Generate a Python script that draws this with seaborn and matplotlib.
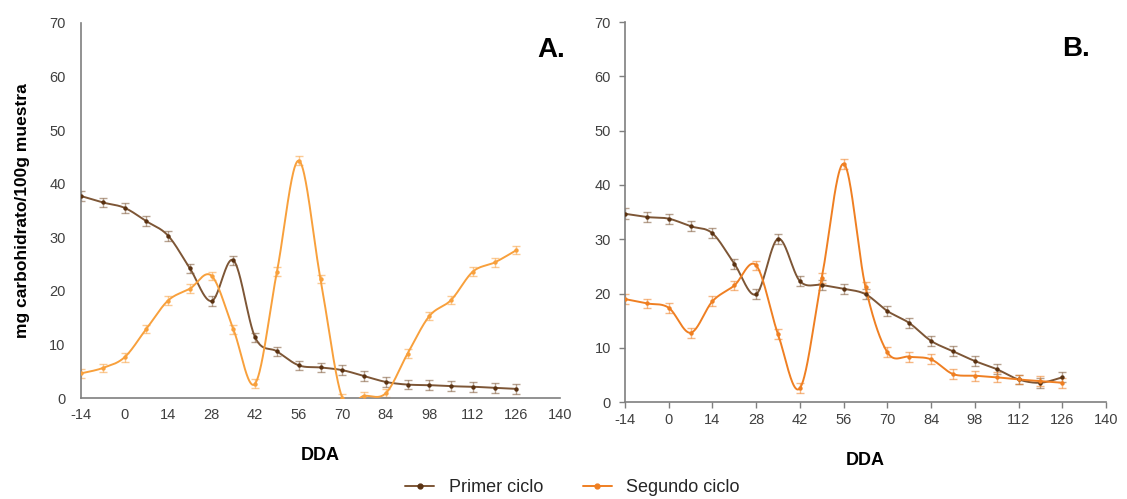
import numpy as np
import matplotlib
matplotlib.use("Agg")
import matplotlib.pyplot as plt
import seaborn as sns
from matplotlib.lines import Line2D

sns.set_theme(style="white")
plt.rcParams['font.family'] = ['Liberation Sans', 'DejaVu Sans']

# ---------------- data ----------------
dda = [-14, -7, 0, 7, 14, 21, 28, 35, 42, 49, 56, 63, 70, 77, 84, 91, 98, 105, 112, 119, 126]

primer_a = [37.7, 36.5, 35.5, 33.0, 30.3, 24.2, 18.1, 25.7, 11.3, 8.7, 6.1, 5.7, 5.2, 4.1, 3.0, 2.5, 2.4, 2.2, 2.1, 1.9, 1.7]
primer_a_err = [1.0, 0.9, 0.9, 0.9, 0.9, 0.9, 0.9, 0.9, 0.9, 0.9, 0.9, 0.9, 0.9, 0.9, 0.9, 0.9, 0.9, 0.9, 0.9, 0.9, 0.9]
segundo_a = [4.6, 5.6, 7.6, 12.9, 18.2, 20.4, 22.8, 12.8, 2.7, 23.6, 44.3, 22.2, 0.0, 0.4, 0.9, 8.3, 15.3, 18.3, 23.6, 25.3, 27.6]
segundo_a_err = [0.9, 0.8, 0.8, 0.8, 0.8, 0.8, 0.8, 0.8, 0.8, 0.8, 0.8, 0.8, 0.8, 0.8, 0.8, 0.8, 0.8, 0.8, 0.8, 0.8, 0.8]

primer_b = [34.7, 34.1, 33.8, 32.4, 31.1, 25.5, 19.9, 30.1, 22.3, 21.6, 20.9, 19.9, 16.8, 14.6, 11.3, 9.4, 7.6, 6.1, 4.2, 3.6, 4.6]
primer_b_err = [1.0, 0.9, 0.9, 0.9, 0.9, 0.9, 0.9, 0.9, 0.9, 0.9, 0.9, 0.9, 0.9, 0.9, 0.9, 0.9, 0.9, 0.9, 0.9, 0.9, 0.9]
segundo_b = [19.0, 18.2, 17.4, 12.8, 18.6, 21.5, 25.2, 12.5, 2.6, 22.9, 43.9, 21.2, 9.2, 8.4, 7.9, 5.2, 4.9, 4.6, 4.2, 3.9, 3.6]
segundo_b_err = [0.9, 0.9, 0.9, 0.9, 0.9, 0.9, 0.9, 0.9, 0.9, 0.9, 0.9, 0.9, 0.9, 0.9, 0.9, 0.9, 0.9, 0.9, 0.9, 0.9, 0.9]

x_ticks = [-14, 0, 14, 28, 42, 56, 70, 84, 98, 112, 126, 140]
y_ticks = [0, 10, 20, 30, 40, 50, 60, 70]
series_names = ["Primer ciclo", "Segundo ciclo"]
panel_labels = ["A.", "B."]

brown_line = "#7d5636"
brown_mark = "#5a3212"
orange_a = "#f8a03c"
orange_b = "#ef7f22"
spine_col = "#7f7f7f"
text_col = "#404040"


def smooth(xs, ys, n=40):
    """Excel-like smoothed line (Catmull-Rom via cubic Bezier)."""
    P = np.column_stack([xs, ys]).astype(float)
    out = []
    m = len(P)
    for i in range(m - 1):
        p0 = P[i - 1] if i > 0 else P[i]
        p1 = P[i]
        p2 = P[i + 1]
        p3 = P[i + 2] if i + 2 < m else P[i + 1]
        c1 = p1 + (p2 - p0) / 6.0
        c2 = p2 - (p3 - p1) / 6.0
        t = np.linspace(0, 1, n, endpoint=(i == m - 2))[:, None]
        seg = ((1 - t) ** 3) * p1 + 3 * ((1 - t) ** 2) * t * c1 + 3 * (1 - t) * t ** 2 * c2 + t ** 3 * p2
        out.append(seg)
    out = np.vstack(out)
    return out[:, 0], out[:, 1]


fig = plt.figure(figsize=(11.27, 4.99), dpi=100)
axA = fig.add_axes([81 / 1127, 101 / 499, 479 / 1127, 375 / 499])
axB = fig.add_axes([625 / 1127, 96.7 / 499, 481 / 1127, 380.3 / 499])


def draw(ax, prim, prim_err, seg, seg_err, ocol, label, ticks_out, lab_x, xlab_pad):
    for ys, es, lc, mc in [(prim, prim_err, brown_line, brown_mark), (seg, seg_err, ocol, ocol)]:
        sx, sy = smooth(dda, ys)
        sns.lineplot(x=sx, y=sy, ax=ax, color=lc, lw=1.4, sort=False, estimator=None, zorder=3)
        ax.errorbar(dda, ys, yerr=es, fmt="none", ecolor=lc, alpha=0.55, elinewidth=1.0,
                    capsize=3, capthick=1.0, zorder=2)
        sns.scatterplot(x=dda, y=ys, ax=ax, color=mc, s=10, marker="o", edgecolor=mc, linewidth=0, zorder=4)
    ax.set_xlim(-14, 140)
    ax.set_ylim(0, 70)
    ax.set_xticks(x_ticks)
    ax.set_yticks(y_ticks)
    ax.set_xticklabels([str(v) for v in x_ticks], fontsize=10.5, color=text_col)
    ax.set_yticklabels([str(v) for v in y_ticks], fontsize=10.5, color=text_col)
    for s in ["top", "right"]:
        ax.spines[s].set_visible(False)
    for s in ["left", "bottom"]:
        ax.spines[s].set_color(spine_col)
        ax.spines[s].set_linewidth(1.2)
    if ticks_out:
        ax.tick_params(axis="x", direction="out", length=4, width=1, color=spine_col, pad=4, bottom=True)
        ax.tick_params(axis="y", direction="out", length=4, width=1, color=spine_col, pad=6, left=True)
    else:
        ax.tick_params(axis="x", length=0, pad=7)
        ax.tick_params(axis="y", length=0, pad=11)
    ax.set_xlabel("DDA", fontsize=13, fontweight="bold", color="black", labelpad=xlab_pad)
    ax.set_ylabel("")
    ax.grid(False)
    ax.text(lab_x, 0.928, label, transform=ax.transAxes, fontsize=20, fontweight="bold",
            ha="right", va="center", color="black")


draw(axA, primer_a, primer_a_err, segundo_a, segundo_a_err, orange_a, panel_labels[0], False, 1.01, 18)
draw(axB, primer_b, primer_b_err, segundo_b, segundo_b_err, orange_b, panel_labels[1], True, 0.967, 18)
axA.set_ylabel("mg carbohidrato/100g muestra", fontsize=12.5, fontweight="bold", color="black", labelpad=14)

handles = [Line2D([0], [0], color=brown_line, lw=1.4, marker="o", markersize=3.5,
                  markerfacecolor=brown_mark, markeredgecolor=brown_mark),
           Line2D([0], [0], color=orange_b, lw=1.4, marker="o", markersize=3.5,
                  markerfacecolor=orange_b, markeredgecolor=orange_b)]
fig.legend(handles, series_names, loc="center", bbox_to_anchor=(0.508, 11 / 499), ncol=2,
           frameon=False, fontsize=13, handlelength=1.6, columnspacing=2.2, handletextpad=0.8)

fig.savefig("out.png", dpi=100)
